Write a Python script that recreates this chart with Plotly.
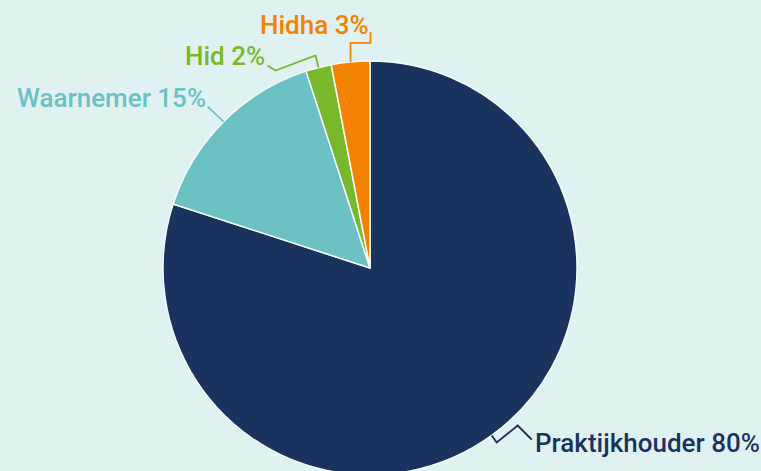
import math
import plotly.graph_objects as go

# ---- data ----
categories = ["Praktijkhouder", "Waarnemer", "Hid", "Hidha"]
values = [80, 15, 2, 3]
colors = ["#19335e", "#6cc2c3", "#79b82b", "#f28200"]

# ---- layout constants (pixels) ----
W, H = 761, 480
BG = "#e0f1f1"
CX, CY, R = 370, 268, 207

fig = go.Figure()
fig.add_trace(go.Pie(
    labels=categories, values=values, sort=False, direction="clockwise",
    rotation=0, textinfo="none", hoverinfo="label+percent",
    marker=dict(colors=colors, line=dict(color="#f4fbfb", width=1.5)),
    domain=dict(x=[(CX - R) / W, (CX + R) / W], y=[(H - CY - R) / H, (H - CY + R) / H]),
    showlegend=False,
))

# invisible pixel axes for labels/connectors
fig.add_trace(go.Scatter(x=[0, W], y=[0, H], mode="markers", marker=dict(opacity=0),
                         hoverinfo="skip", showlegend=False))

# connector styling: offsets relative to slice edge point, then text anchor offset
conn = {
    "Praktijkhouder": dict(path=[(5, 7), (26, -10), (40, 4)], text=(41, 8), xanchor="left"),
    "Waarnemer": dict(path=[(-16, -15)], text=(-15.5, -24), xanchor="right"),
    "Hid": dict(path=[(-3, -12), (-43, 3), (-51, -2)], text=(-52, -11.5), xanchor="right"),
    "Hidha": dict(path=[(0, -19), (20, -19), (20, -30)], text=(20.5, -36.5), xanchor="right"),
}

total = sum(values)
cum = 0
for cat, val, col in zip(categories, values, colors):
    mid = (cum + val / 2) / total * 2 * math.pi
    cum += val
    ex = CX + R * math.sin(mid)
    ey = CY - R * math.cos(mid)
    c = conn[cat]
    pts = [(ex, ey)] + [(ex + dx, ey + dy) for dx, dy in c["path"]]
    d = "M " + " L ".join(f"{px:.1f},{py:.1f}" for px, py in pts)
    fig.add_shape(type="path", path=d, xref="x", yref="y",
                  line=dict(color=col, width=1.8))
    pct = round(val / total * 100)
    fig.add_annotation(x=ex + c["text"][0], y=ey + c["text"][1], xref="x", yref="y",
                       text=f"{cat} {pct}%", showarrow=False, xanchor=c["xanchor"],
                       yanchor="middle",
                       font=dict(family="Roboto", size=26, color=col, weight=500))

fig.update_xaxes(range=[0, W], visible=False, fixedrange=True)
fig.update_yaxes(range=[H, 0], visible=False, fixedrange=True)
fig.update_layout(
    width=W, height=H, margin=dict(l=0, r=0, t=0, b=0),
    paper_bgcolor=BG, plot_bgcolor="rgba(0,0,0,0)",
)

fig.write_html("out.html", config={"displayModeBar": False},
               post_script="document.body.style.margin='0';document.body.style.overflow='hidden';document.documentElement.style.overflow='hidden';")
